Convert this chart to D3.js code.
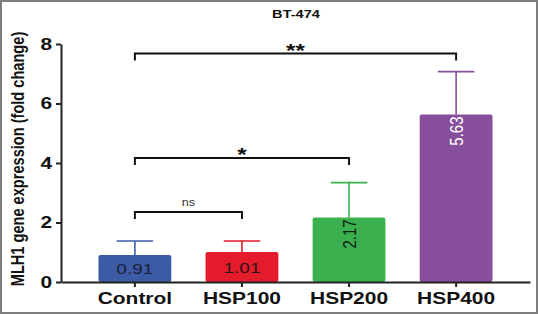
<!DOCTYPE html>
<html>
<head>
<meta charset="utf-8">
<script src="https://cdn.jsdelivr.net/npm/d3@7"></script>
<style>
body { margin:0; background:#fff; }
svg { display:block; font-family:"Liberation Sans", Arial, sans-serif; }
</style>
</head>
<body>
<svg id="svg1"></svg>
<script>
// chart values
var categories = ["Control","HSP100","HSP200","HSP400"];
var means = [0.91,1.01,2.17,5.63];
var errors = [0.47,0.37,1.17,1.44];
var valueLabels = ["0.91","1.01","2.17","5.63"];
var yTicks = [0,2,4,6,8];

// significance brackets
var compareFrom = ["Control","Control","Control"];
var compareTo = ["HSP100","HSP200","HSP400"];
var compareMarks = ["ns","*","**"];
var compareLevels = [2.35,4.17,7.68];

var barColors = ["#3b5ba7","#e41b2a","#3bb04f","#874f9b"];
var labelColors = ["#1c1f33","#2a1416","#10200f","#ffffff"];
var stretch = 1.27;

var makeTranslateString = function(x,y)
{
    return "translate("+x+","+y+")";
}

var screen = {width:538,height:314}
var margins = {left:61,right:9,top:44,bottom:32}
var graph = {
    width:screen.width-margins.left-margins.right,
    height:screen.height-margins.top-margins.bottom
}

var svg = d3.select("#svg1")
    .attr("width",screen.width)
    .attr("height",screen.height)

// frame
svg.append("rect")
    .attr("x",1).attr("y",1)
    .attr("width",screen.width-2).attr("height",screen.height-2)
    .attr("fill","#fff")
    .attr("stroke","#7d7d7d")
    .attr("stroke-width",2)

var xScale = d3.scaleBand()
    .domain(categories)
    .range([margins.left,margins.left+graph.width+1])
    .paddingInner(0.32)
    .paddingOuter(0.35)

var yScale = d3.scaleLinear()
    .domain([0,8])
    .range([margins.top+graph.height,margins.top])

var rows = categories.map(function(c,i){
    return {cat:c,mean:means[i],err:errors[i],label:valueLabels[i],color:barColors[i],lc:labelColors[i]};
});

// bars
svg.append("g").selectAll("rect")
    .data(rows)
    .enter()
    .append("rect")
    .attr("x",function(d){ return xScale(d.cat); })
    .attr("y",function(d){ return yScale(d.mean); })
    .attr("width",xScale.bandwidth())
    .attr("height",function(d){ return yScale(0)-yScale(d.mean); })
    .attr("rx",2)
    .attr("fill",function(d){ return d.color; })

// error bars
var capW = xScale.bandwidth()*0.5;
var eb = svg.append("g").selectAll("g")
    .data(rows)
    .enter()
    .append("g")
    .attr("stroke",function(d){ return d.color; })
    .attr("stroke-width",1.6)
eb.append("line")
    .attr("x1",function(d){ return xScale(d.cat)+xScale.bandwidth()/2; })
    .attr("x2",function(d){ return xScale(d.cat)+xScale.bandwidth()/2; })
    .attr("y1",function(d){ return yScale(d.mean); })
    .attr("y2",function(d){ return yScale(d.mean+d.err); })
eb.append("line")
    .attr("x1",function(d){ return xScale(d.cat)+xScale.bandwidth()/2-capW/2; })
    .attr("x2",function(d){ return xScale(d.cat)+xScale.bandwidth()/2+capW/2; })
    .attr("y1",function(d){ return yScale(d.mean+d.err); })
    .attr("y2",function(d){ return yScale(d.mean+d.err); })

// value labels inside bars
svg.append("g").selectAll("text")
    .data(rows)
    .enter()
    .append("text")
    .text(function(d){ return d.label; })
    .attr("font-size",15)
    .attr("fill",function(d){ return d.lc; })
    .attr("dominant-baseline","central")
    .attr("text-anchor",function(d){
        return (yScale(0)-yScale(d.mean))>40 ? "end" : "middle";
    })
    .attr("transform",function(d){
        var cx = xScale(d.cat)+xScale.bandwidth()/2;
        var h = yScale(0)-yScale(d.mean);
        if(h>40)
        {
            return makeTranslateString(cx,yScale(d.mean)+2)+" scale("+stretch+",1) rotate(-90)";
        }
        return makeTranslateString(cx,(yScale(0)+yScale(d.mean))/2+0.5)+" scale("+stretch+",1)";
    })

// axes
var xAxis = d3.axisBottom(xScale).tickSize(5).tickSizeOuter(0).tickPadding(5);
var gx = svg.append("g")
    .attr("transform",makeTranslateString(0,margins.top+graph.height))
    .call(xAxis)
gx.select(".domain").attr("stroke","#222").attr("stroke-width",2)
gx.selectAll(".tick line").attr("stroke","#222").attr("stroke-width",2)
gx.selectAll(".tick text")
    .attr("font-size",16.5)
    .attr("font-weight","bold")
    .attr("fill","#111")
    .attr("font-family","Liberation Sans, Arial, sans-serif")
    .attr("transform","scale("+stretch+",1)")

var yAxis = d3.axisLeft(yScale).tickValues(yTicks).tickSize(5).tickSizeOuter(0).tickPadding(2);
var gy = svg.append("g")
    .attr("transform",makeTranslateString(margins.left,0))
    .call(yAxis)
gy.select(".domain").attr("stroke","#222").attr("stroke-width",2)
gy.selectAll(".tick line").attr("stroke","#222").attr("stroke-width",2)
gy.selectAll(".tick text")
    .attr("font-size",16.5)
    .attr("font-weight","bold")
    .attr("fill","#111")
    .attr("font-family","Liberation Sans, Arial, sans-serif")
    .attr("transform","scale("+stretch+",1)")

// significance brackets
var center = function(c){ return xScale(c)+xScale.bandwidth()/2; }
var brackets = compareMarks.map(function(m,i){
    return {a:compareFrom[i],b:compareTo[i],mark:m,level:compareLevels[i]};
});
var br = svg.append("g").selectAll("g")
    .data(brackets)
    .enter()
    .append("g")
br.append("path")
    .attr("fill","none")
    .attr("stroke","#111")
    .attr("stroke-width",2)
    .attr("d",function(d){
        var y = yScale(d.level);
        return "M"+center(d.a)+","+(y+7)+"V"+y+"H"+center(d.b)+"V"+(y+7);
    })
br.append("text")
    .text(function(d){ return d.mark; })
    .attr("text-anchor","middle")
    .attr("font-size",function(d){ return d.mark=="ns" ? 10 : 19; })
    .attr("font-weight",function(d){ return d.mark=="ns" ? "normal" : "bold"; })
    .attr("fill",function(d){ return d.mark=="ns" ? "#333" : "#111"; })
    .attr("transform",function(d){
        var x = (center(d.a)+center(d.b))/2;
        var y = yScale(d.level)+(d.mark=="ns" ? -6 : 3);
        return makeTranslateString(x,y)+" scale("+stretch+",1)";
    })

// labels
svg.append("text")
    .text("BT-474")
    .attr("text-anchor","middle")
    .attr("font-size",11.5)
    .attr("font-weight","bold")
    .attr("fill","#111")
    .attr("transform",makeTranslateString(296,18)+" scale("+stretch+",1)")

svg.append("text")
    .text("MLH1 gene expression (fold change)")
    .attr("text-anchor","middle")
    .attr("dominant-baseline","central")
    .attr("font-size",14.6)
    .attr("font-weight","bold")
    .attr("fill","#111")
    .attr("transform",makeTranslateString(18,159)+" scale("+stretch+",1) rotate(-90)")
</script>
</body>
</html>
